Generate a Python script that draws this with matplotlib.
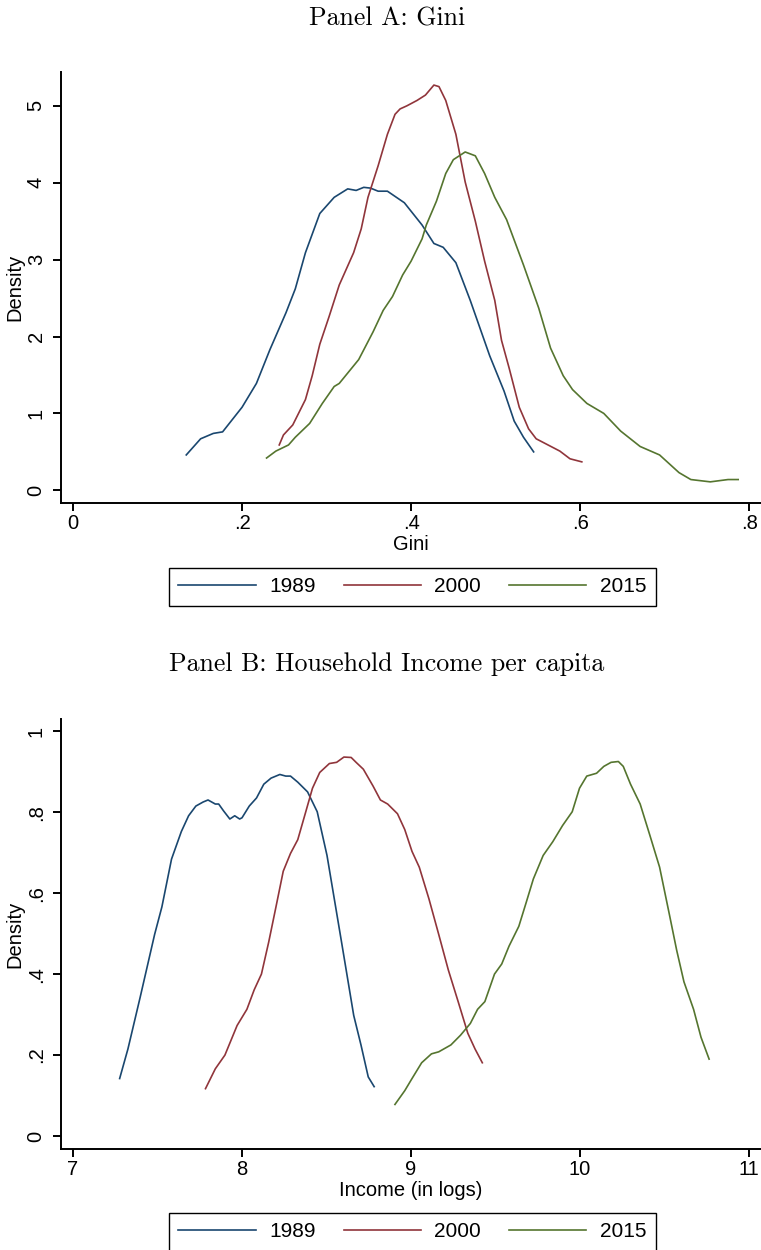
import matplotlib
matplotlib.use("Agg")
import matplotlib.pyplot as plt

# Panel A: Gini densities
gini_1989_x = [0.134, 0.151, 0.166, 0.177, 0.200, 0.217, 0.233, 0.252, 0.263, 0.275, 0.292, 0.309,
               0.325, 0.335, 0.344, 0.352, 0.361, 0.372, 0.392, 0.413, 0.427, 0.438, 0.453, 0.470,
               0.493, 0.510, 0.522, 0.533, 0.545]
gini_1989_y = [0.46, 0.67, 0.74, 0.76, 1.08, 1.39, 1.83, 2.31, 2.62, 3.09, 3.60, 3.81,
               3.92, 3.90, 3.94, 3.93, 3.89, 3.89, 3.74, 3.45, 3.21, 3.16, 2.96, 2.47,
               1.75, 1.29, 0.90, 0.69, 0.50]

gini_2000_x = [0.244, 0.249, 0.260, 0.275, 0.283, 0.292, 0.303, 0.315, 0.332, 0.341, 0.349, 0.361,
               0.372, 0.381, 0.387, 0.395, 0.407, 0.417, 0.427, 0.433, 0.441, 0.453, 0.464, 0.476,
               0.487, 0.499, 0.507, 0.516, 0.528, 0.539, 0.548, 0.562, 0.576, 0.588, 0.602]
gini_2000_y = [0.59, 0.72, 0.85, 1.18, 1.49, 1.90, 2.26, 2.67, 3.09, 3.40, 3.81, 4.22,
               4.63, 4.89, 4.96, 5.00, 5.07, 5.14, 5.27, 5.25, 5.07, 4.63, 4.01, 3.50,
               2.98, 2.47, 1.95, 1.59, 1.08, 0.80, 0.67, 0.59, 0.51, 0.41, 0.37]

gini_2015_x = [0.229, 0.240, 0.255, 0.263, 0.280, 0.295, 0.309, 0.315, 0.338, 0.355, 0.367, 0.378,
               0.390, 0.400, 0.413, 0.418, 0.430, 0.441, 0.450, 0.464, 0.476, 0.487, 0.499, 0.513,
               0.533, 0.551, 0.565, 0.580, 0.591, 0.608, 0.628, 0.648, 0.671, 0.694, 0.717, 0.731,
               0.754, 0.775, 0.787]
gini_2015_y = [0.42, 0.51, 0.59, 0.69, 0.87, 1.13, 1.35, 1.39, 1.70, 2.06, 2.34, 2.52,
               2.80, 2.98, 3.27, 3.45, 3.76, 4.12, 4.30, 4.40, 4.35, 4.12, 3.81, 3.52,
               2.93, 2.37, 1.85, 1.49, 1.31, 1.13, 1.00, 0.77, 0.57, 0.46, 0.23, 0.14,
               0.11, 0.14, 0.14]

# Panel B: log household income per capita densities
inc_1989_x = [7.276, 7.325, 7.397, 7.483, 7.526, 7.583, 7.641, 7.684, 7.727, 7.770, 7.799, 7.842,
              7.862, 7.891, 7.928, 7.957, 7.986, 8.000, 8.043, 8.086, 8.129, 8.172, 8.224, 8.259,
              8.287, 8.330, 8.388, 8.445, 8.503, 8.546, 8.589, 8.632, 8.661, 8.704, 8.747, 8.782]
inc_1989_y = [0.142, 0.215, 0.342, 0.498, 0.566, 0.684, 0.752, 0.791, 0.815, 0.825, 0.830, 0.820,
              0.820, 0.803, 0.783, 0.791, 0.783, 0.786, 0.815, 0.835, 0.869, 0.884, 0.893, 0.889,
              0.889, 0.874, 0.850, 0.801, 0.693, 0.586, 0.479, 0.371, 0.298, 0.225, 0.146, 0.122]

inc_2000_x = [7.784, 7.842, 7.899, 7.971, 8.029, 8.072, 8.115, 8.158, 8.201, 8.244, 8.287, 8.330,
              8.374, 8.417, 8.460, 8.517, 8.560, 8.603, 8.646, 8.675, 8.718, 8.776, 8.819, 8.862,
              8.920, 8.963, 9.006, 9.049, 9.106, 9.164, 9.221, 9.279, 9.336, 9.379, 9.422]
inc_2000_y = [0.117, 0.166, 0.200, 0.273, 0.313, 0.361, 0.400, 0.479, 0.566, 0.654, 0.698, 0.732,
              0.796, 0.859, 0.898, 0.920, 0.923, 0.936, 0.935, 0.923, 0.906, 0.864, 0.830, 0.820,
              0.796, 0.757, 0.703, 0.664, 0.586, 0.498, 0.410, 0.332, 0.254, 0.215, 0.181]

inc_2015_x = [8.905, 8.963, 9.006, 9.063, 9.121, 9.164, 9.236, 9.293, 9.351, 9.394, 9.437, 9.494,
              9.537, 9.580, 9.638, 9.681, 9.724, 9.782, 9.839, 9.897, 9.954, 9.997, 10.040, 10.098,
              10.141, 10.184, 10.227, 10.256, 10.299, 10.356, 10.414, 10.471, 10.529, 10.572,
              10.615, 10.672, 10.716, 10.764]
inc_2015_y = [0.078, 0.112, 0.142, 0.181, 0.203, 0.208, 0.225, 0.249, 0.278, 0.313, 0.332, 0.400,
              0.425, 0.469, 0.518, 0.576, 0.635, 0.693, 0.727, 0.767, 0.801, 0.859, 0.889, 0.896,
              0.913, 0.923, 0.925, 0.913, 0.869, 0.820, 0.742, 0.664, 0.547, 0.459,
              0.381, 0.313, 0.244, 0.190]

years = ["1989", "2000", "2015"]
colors = ["#1a476f", "#90353b", "#55752f"]

gini_xticks = [0, 0.2, 0.4, 0.6, 0.8]
gini_xlabels = ["0", ".2", ".4", ".6", ".8"]
gini_yticks = [0, 1, 2, 3, 4, 5]
gini_ylabels = ["0", "1", "2", "3", "4", "5"]
inc_xticks = [7, 8, 9, 10, 11]
inc_xlabels = ["7", "8", "9", "10", "11"]
inc_yticks = [0, 0.2, 0.4, 0.6, 0.8, 1.0]
inc_ylabels = ["0", ".2", ".4", ".6", ".8", "1"]

plt.rcParams["font.family"] = ["Liberation Sans", "DejaVu Sans"]
FS = 14.5

W, H = 761, 1250
fig = plt.figure(figsize=(W / 100, H / 100), dpi=100)
axA = fig.add_axes([61 / W, 1 - 503 / H, 700 / W, 431 / H])
axB = fig.add_axes([61 / W, 1 - 1149 / H, 700 / W, 430 / H])


def style(ax, xt, xl, yt, yl, xlabel, leg_y):
    for s in ["top", "right"]:
        ax.spines[s].set_visible(False)
    for s in ["left", "bottom"]:
        ax.spines[s].set_linewidth(1.4)
    ax.set_xticks(xt)
    ax.set_xticklabels(xl)
    ax.set_yticks(yt)
    ax.set_yticklabels(yl, rotation=90, va="center")
    ax.tick_params(direction="out", length=6, width=1.4, labelsize=FS)
    ax.tick_params(axis="x", pad=2)
    ax.tick_params(axis="y", pad=5)
    ax.set_xlabel(xlabel, fontsize=FS)
    ax.set_ylabel("Density", fontsize=FS)
    ax.yaxis.set_label_coords(-0.053, 0.5)
    ax.xaxis.set_label_coords(0.5, -0.075)
    leg = ax.legend(ncol=3, loc="upper center", bbox_to_anchor=(0.502, leg_y),
                    frameon=True, fancybox=False, edgecolor="black", framealpha=1,
                    handlelength=3.7, handletextpad=0.65, columnspacing=1.35,
                    borderpad=0.45, borderaxespad=0, fontsize=15)
    leg.get_frame().set_linewidth(1.0)


for xs, ys, yr, c in zip([gini_1989_x, gini_2000_x, gini_2015_x],
                         [gini_1989_y, gini_2000_y, gini_2015_y], years, colors):
    axA.plot(xs, ys, color=c, lw=1.2, label=yr)
axA.set_xlim(-0.0142, 0.814)
axA.set_ylim(-0.165, 5.44)
style(axA, gini_xticks, gini_xlabels, gini_yticks, gini_ylabels, "Gini", -0.151)

for xs, ys, yr, c in zip([inc_1989_x, inc_2000_x, inc_2015_x],
                         [inc_1989_y, inc_2000_y, inc_2015_y], years, colors):
    axB.plot(xs, ys, color=c, lw=1.2, label=yr)
axB.set_xlim(6.929, 11.071)
axB.set_ylim(-0.032, 1.030)
style(axB, inc_xticks, inc_xlabels, inc_yticks, inc_ylabels, "Income (in logs)", -0.149)

fig.text(387 / W, 1 - 25 / H, "Panel A: Gini", ha="center", va="baseline",
         family="cmr10", fontsize=18.6)
fig.text(387 / W, 1 - 671.5 / H, "Panel B: Household Income per capita", ha="center",
         va="baseline", family="cmr10", fontsize=18.6)

fig.savefig("out.png", dpi=100)
